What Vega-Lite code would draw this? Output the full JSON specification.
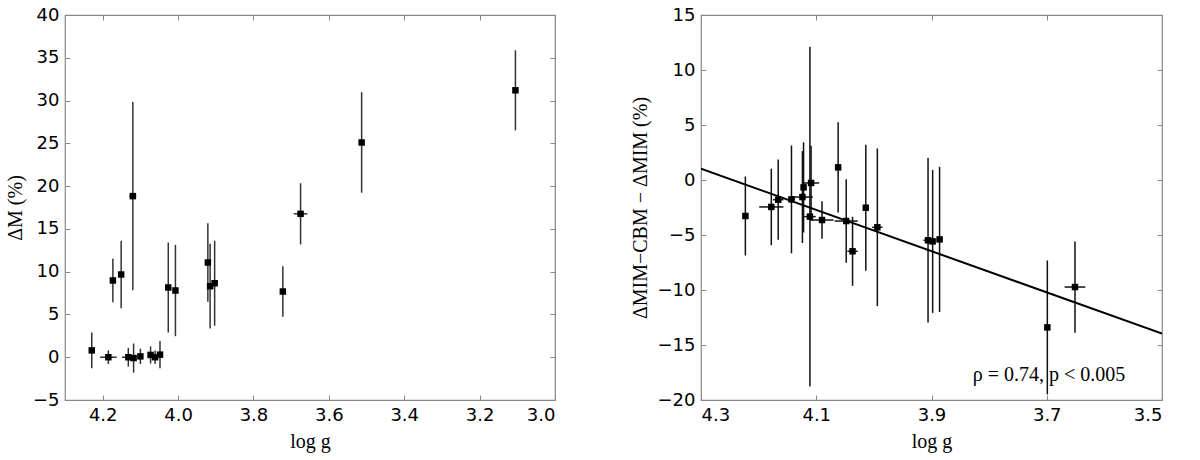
{
  "$schema": "https://vega.github.io/schema/vega-lite/v6.json",
  "background": "white",
  "padding": {"left": 4, "top": 5, "right": 5, "bottom": 5},
  "bounds": "flush",
  "spacing": 146,
  "datasets": {
    "left": [
      {"logg": 4.229, "dm": 0.8, "dm_err": 2.1, "logg_err": 0},
      {"logg": 4.185, "dm": 0.0, "dm_err": 0.8, "logg_err": 0.022},
      {"logg": 4.173, "dm": 8.97, "dm_err": 2.55, "logg_err": 0},
      {"logg": 4.151, "dm": 9.67, "dm_err": 3.94, "logg_err": 0},
      {"logg": 4.12, "dm": 18.83, "dm_err": 11.0, "logg_err": 0.009},
      {"logg": 4.132, "dm": 0.0, "dm_err": 1.1, "logg_err": 0.017},
      {"logg": 4.118, "dm": -0.1, "dm_err": 1.7, "logg_err": 0},
      {"logg": 4.1, "dm": 0.1, "dm_err": 0.9, "logg_err": 0},
      {"logg": 4.073, "dm": 0.27, "dm_err": 1.0, "logg_err": 0},
      {"logg": 4.061, "dm": 0.0, "dm_err": 0.8, "logg_err": 0},
      {"logg": 4.048, "dm": 0.3, "dm_err": 1.6, "logg_err": 0},
      {"logg": 4.026, "dm": 8.15, "dm_err": 5.26, "logg_err": 0},
      {"logg": 4.007, "dm": 7.8, "dm_err": 5.34, "logg_err": 0},
      {"logg": 3.921, "dm": 11.07, "dm_err": 4.58, "logg_err": 0},
      {"logg": 3.915, "dm": 8.3, "dm_err": 4.95, "logg_err": 0},
      {"logg": 3.903, "dm": 8.65, "dm_err": 4.97, "logg_err": 0},
      {"logg": 3.722, "dm": 7.68, "dm_err": 2.94, "logg_err": 0},
      {"logg": 3.675, "dm": 16.76, "dm_err": 3.57, "logg_err": 0.018},
      {"logg": 3.513, "dm": 25.1, "dm_err": 5.87, "logg_err": 0.007},
      {"logg": 3.105, "dm": 31.2, "dm_err": 4.68, "logg_err": 0}
    ],
    "right": [
      {"logg": 4.223, "dd": -3.27, "dd_err": 3.59, "logg_err": 0.005},
      {"logg": 4.178, "dd": -2.45, "dd_err": 3.48, "logg_err": 0.021},
      {"logg": 4.166, "dd": -1.79, "dd_err": 3.65, "logg_err": 0.009},
      {"logg": 4.143, "dd": -1.76, "dd_err": 4.9, "logg_err": 0.006},
      {"logg": 4.124, "dd": -1.55, "dd_err": 4.18, "logg_err": 0.018},
      {"logg": 4.122, "dd": -0.67, "dd_err": 4.1, "logg_err": 0},
      {"logg": 4.109, "dd": -0.27, "dd_err": 3.38, "logg_err": 0.014},
      {"logg": 4.111, "dd": -3.33, "dd_err": 15.45, "logg_err": 0.01},
      {"logg": 4.09, "dd": -3.64, "dd_err": 1.7, "logg_err": 0.02},
      {"logg": 4.048, "dd": -3.73, "dd_err": 3.8, "logg_err": 0.02},
      {"logg": 4.062, "dd": 1.15, "dd_err": 4.1, "logg_err": 0},
      {"logg": 4.037, "dd": -6.48, "dd_err": 3.14, "logg_err": 0.009},
      {"logg": 4.014, "dd": -2.52, "dd_err": 5.73, "logg_err": 0.005},
      {"logg": 3.994, "dd": -4.3, "dd_err": 7.17, "logg_err": 0.009},
      {"logg": 3.906, "dd": -5.48, "dd_err": 7.48, "logg_err": 0.008},
      {"logg": 3.898, "dd": -5.58, "dd_err": 6.5, "logg_err": 0},
      {"logg": 3.886, "dd": -5.4, "dd_err": 6.6, "logg_err": 0.005},
      {"logg": 3.699, "dd": -13.4, "dd_err": 6.09, "logg_err": 0},
      {"logg": 3.651, "dd": -9.73, "dd_err": 4.15, "logg_err": 0.018}
    ],
    "fit": [
      {"logg": 4.3, "dd": 1.03},
      {"logg": 3.5, "dd": -13.97}
    ]
  },
  "hconcat": [
    {
      "width": 490,
      "height": 385,
      "data": {"name": "left"},
      "layer": [
        {
          "mark": {"type": "errorbar", "rule": {"stroke": "#333", "strokeWidth": 1.5}},
          "encoding": {
            "x": {"field": "logg", "type": "quantitative",
              "scale": {"domain": [3.0, 4.3], "reverse": true, "nice": false, "zero": false},
              "axis": {"orient": "bottom", "values": [4.2, 4.0, 3.8, 3.6, 3.4, 3.2, 3.0], "format": ".1f", "title": "log g"}},
            "y": {"field": "dm", "type": "quantitative",
              "scale": {"domain": [-5, 40], "nice": false, "zero": false},
              "axis": {"orient": "left", "values": [-5, 0, 5, 10, 15, 20, 25, 30, 35, 40], "title": "ΔM (%)"}},
            "yError": {"field": "dm_err"}
          }
        },
        {
          "mark": {"type": "errorbar", "rule": {"stroke": "#333", "strokeWidth": 1.5}},
          "encoding": {
            "x": {"field": "logg", "type": "quantitative", "axis": null},
            "xError": {"field": "logg_err"},
            "y": {"field": "dm", "type": "quantitative", "axis": null}
          }
        },
        {
          "mark": {"type": "square", "size": 42, "color": "black", "filled": true, "opacity": 1},
          "encoding": {
            "x": {"field": "logg", "type": "quantitative",
              "axis": {"orient": "top", "labels": false, "title": null, "values": [4.2, 4.0, 3.8, 3.6, 3.4, 3.2, 3.0]}},
            "y": {"field": "dm", "type": "quantitative",
              "axis": {"orient": "right", "labels": false, "title": null, "values": [-5, 0, 5, 10, 15, 20, 25, 30, 35, 40]}}
          }
        }
      ]
    },
    {
      "width": 461,
      "height": 385,
      "layer": [
        {
          "data": {"name": "right"},
          "mark": {"type": "errorbar", "rule": {"stroke": "#111", "strokeWidth": 1.5}},
          "encoding": {
            "x": {"field": "logg", "type": "quantitative",
              "scale": {"domain": [3.5, 4.3], "reverse": true, "nice": false, "zero": false},
              "axis": {"orient": "bottom", "values": [4.3, 4.1, 3.9, 3.7, 3.5], "format": ".1f", "title": "log g"}},
            "y": {"field": "dd", "type": "quantitative",
              "scale": {"domain": [-20, 15], "nice": false, "zero": false},
              "axis": {"orient": "left", "values": [-20, -15, -10, -5, 0, 5, 10, 15], "title": "ΔMIM−CBM − ΔMIM (%)"}},
            "yError": {"field": "dd_err"}
          }
        },
        {
          "data": {"name": "right"},
          "mark": {"type": "errorbar", "rule": {"stroke": "#111", "strokeWidth": 1.5}},
          "encoding": {
            "x": {"field": "logg", "type": "quantitative", "axis": null},
            "xError": {"field": "logg_err"},
            "y": {"field": "dd", "type": "quantitative", "axis": null}
          }
        },
        {
          "data": {"name": "fit"},
          "mark": {"type": "line", "color": "black", "strokeWidth": 2, "clip": true},
          "encoding": {
            "x": {"field": "logg", "type": "quantitative", "axis": null},
            "y": {"field": "dd", "type": "quantitative", "axis": null}
          }
        },
        {
          "data": {"name": "right"},
          "mark": {"type": "square", "size": 42, "color": "black", "filled": true, "opacity": 1},
          "encoding": {
            "x": {"field": "logg", "type": "quantitative",
              "axis": {"orient": "top", "labels": false, "title": null, "values": [4.3, 4.1, 3.9, 3.7, 3.5]}},
            "y": {"field": "dd", "type": "quantitative",
              "axis": {"orient": "right", "labels": false, "title": null, "values": [-20, -15, -10, -5, 0, 5, 10, 15]}}
          }
        },
        {
          "data": {"values": [{"label": "ρ = 0.74, p < 0.005"}]},
          "mark": {"type": "text", "font": "Liberation Serif", "fontSize": 20, "color": "black", "align": "center", "baseline": "middle"},
          "encoding": {
            "x": {"datum": 3.696, "type": "quantitative", "axis": null},
            "y": {"datum": -17.7, "type": "quantitative", "axis": null},
            "text": {"field": "label"}
          }
        }
      ]
    }
  ],
  "config": {
    "view": {"stroke": "#888", "strokeWidth": 1.2},
    "axis": {
      "grid": false,
      "domain": false,
      "tickColor": "#888",
      "tickSize": -5,
      "tickWidth": 1,
      "labelFont": "DejaVu Sans",
      "labelFontSize": 18,
      "labelColor": "black",
      "labelPadding": 11,
      "titleFont": "Liberation Serif",
      "titleFontSize": 20,
      "titleFontWeight": "normal",
      "titleColor": "black",
      "titlePadding": 7
    }
  }
}
